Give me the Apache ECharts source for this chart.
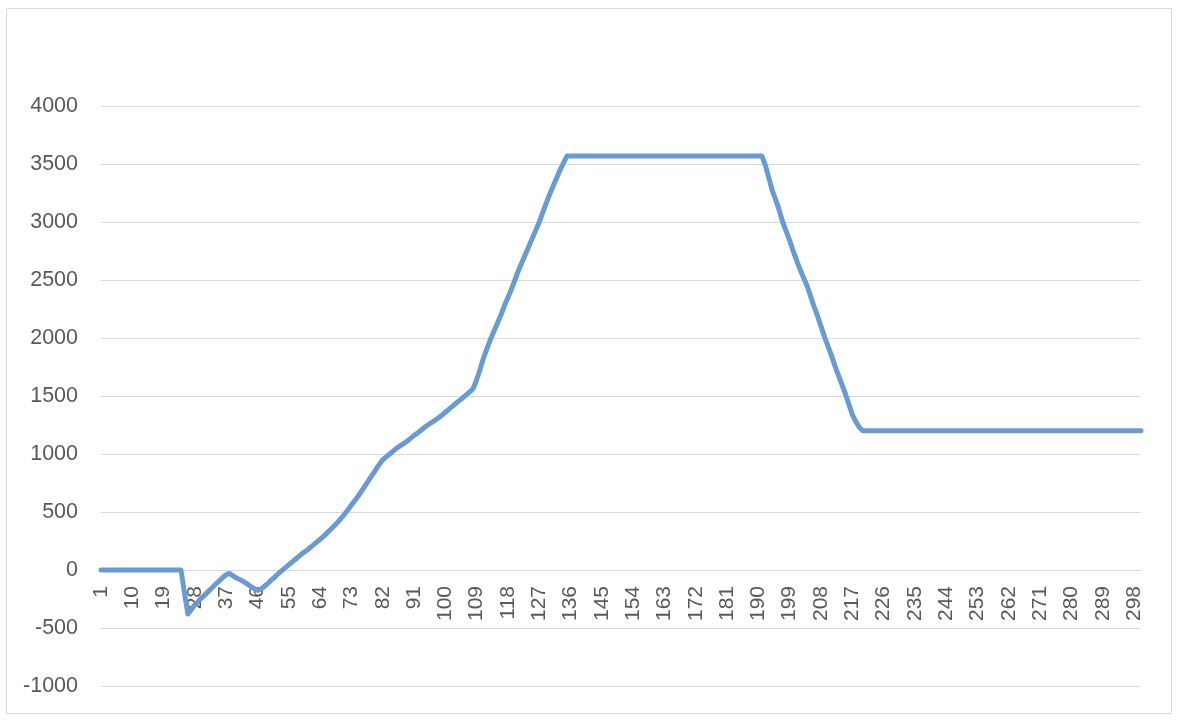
<!DOCTYPE html>
<html>
<head>
<meta charset="utf-8">
<script src="https://cdn.jsdelivr.net/npm/echarts@6/dist/echarts.min.js"></script>
<style>
html,body{margin:0;padding:0;background:#fff;}
#chart{width:1178px;height:726px;}
</style>
</head>
<body>
<div id="chart"></div>
<script>
// Categories 1..300
const categories = [];
for (let i = 1; i <= 300; i++) categories.push(String(i));

// Values
const flatStart = [0,0,0,0,0,0,0,0,0,0,0,0,0,0,0,0,0,0,0,0,0,0,0];            // 1..23
const dipAndRise = [
  0,-200,-380,-340,-300,-270,-240,-210,-180,-150,-120,-95,-65,-40,-30,        // 24..38
  -50,-70,-85,-100,-120,-140,-160,-175,-165,-140,-115,-85,-60,-30,-5,          // 39..53
  20,45,70,95,120,145,165,190,215,240,265,290,320,350,380,410,445,480,520,     // 54..72
  560,600,640,685,730,775,820,865,910,950,975,1000,1025,1050,1070,1090,1110,   // 73..89
  1135,1160,1180,1205,1230,1250,1270,1290,1310,1335,1360,1385,1410,1435,1460,  // 90..104
  1485,1510,1535,1565,1640,1730,1830,1910,1990,2060,2130,2200,2280,2350,2420,  // 105..119
  2500,2580,2650,2720,2790,2860,2930,3000,3080,3160,3240,3310,3380,3450,3510,  // 120..134
  3570                                                                          // 135
];
const plateau = [
  3570,3570,3570,3570,3570,3570,3570,3570,3570,3570,3570,3570,3570,3570,3570,
  3570,3570,3570,3570,3570,3570,3570,3570,3570,3570,3570,3570,3570,3570,3570,
  3570,3570,3570,3570,3570,3570,3570,3570,3570,3570,3570,3570,3570,3570,3570,
  3570,3570,3570,3570,3570,3570,3570,3570,3570,3570                             // 136..190
];
const descent = [
  3570,3490,3380,3270,3190,3100,3000,2920,2840,2750,2670,2590,2520,2450,2360,  // 191..205
  2270,2190,2100,2010,1930,1850,1760,1680,1600,1520,1430,1340,1280,1230,1200   // 206..220
];
const flatEnd = [
  1200,1200,1200,1200,1200,1200,1200,1200,1200,1200,1200,1200,1200,1200,1200,1200,1200,1200,1200,1200,
  1200,1200,1200,1200,1200,1200,1200,1200,1200,1200,1200,1200,1200,1200,1200,1200,1200,1200,1200,1200,
  1200,1200,1200,1200,1200,1200,1200,1200,1200,1200,1200,1200,1200,1200,1200,1200,1200,1200,1200,1200,
  1200,1200,1200,1200,1200,1200,1200,1200,1200,1200,1200,1200,1200,1200,1200,1200,1200,1200,1200,1200 // 221..300
];
const values = [].concat(flatStart, dipAndRise, plateau, descent, flatEnd);

const chart = echarts.init(document.getElementById('chart'));
const font = '"Liberation Sans", Arial, sans-serif';
chart.setOption({
  animation: false,
  backgroundColor: '#fff',
  graphic: [{
    type: 'rect',
    shape: { x: 6.5, y: 8.5, width: 1165, height: 705 },
    style: { fill: 'none', stroke: '#d9d9d9', lineWidth: 1 },
    silent: true
  }],
  grid: { left: 101, right: 37, top: 106, bottom: 40, containLabel: false, outerBoundsMode: 'none' },
  xAxis: {
    type: 'category',
    data: categories,
    boundaryGap: false,
    position: 'bottom',
    offset: -116,
    axisLine: { show: true, onZero: false, lineStyle: { color: '#d9d9d9', width: 1 } },
    axisTick: { show: false },
    axisLabel: {
      interval: 8,
      rotate: 90,
      margin: 16,
      color: '#595959',
      fontSize: 21,
      fontFamily: font
    },
    splitLine: { show: false }
  },
  yAxis: {
    type: 'value',
    min: -1000,
    max: 4000,
    interval: 500,
    axisLine: { show: false },
    axisTick: { show: false },
    axisLabel: { color: '#595959', fontSize: 21.5, fontFamily: font, margin: 23, formatter: function (v) { return String(v); } },
    splitLine: { lineStyle: { color: '#d9d9d9', width: 1 } }
  },
  series: [{
    type: 'line',
    data: values,
    showSymbol: false,
    symbol: 'none',
    lineStyle: { color: '#689BD2', width: 5, cap: 'round', join: 'round' },
    itemStyle: { color: '#689BD2' }
  }]
});
</script>
</body>
</html>
